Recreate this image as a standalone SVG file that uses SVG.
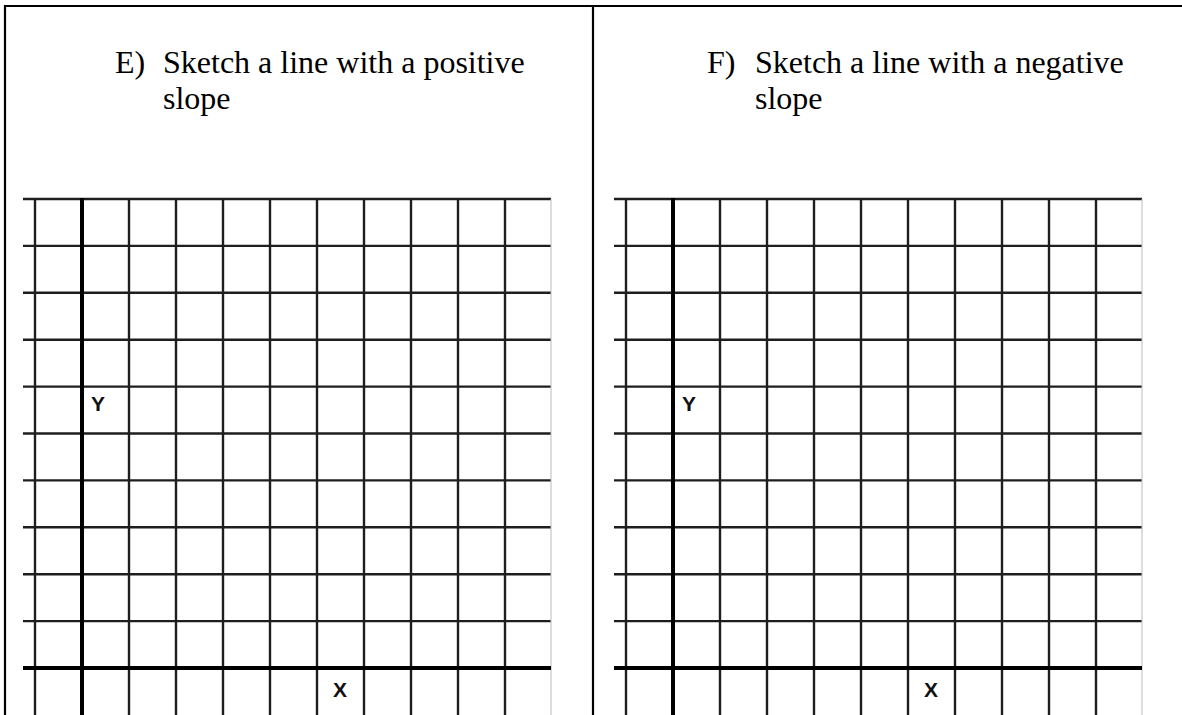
<svg xmlns="http://www.w3.org/2000/svg" xmlns:xlink="http://www.w3.org/1999/xlink" width="1182" height="715" viewBox="0 0 1182 715">
<style>
.frame{stroke:#000;stroke-width:2.2;fill:none}
.g{stroke:#1e1e1e;stroke-width:2.4;fill:none}
.ax{stroke:#000;stroke-width:4;fill:none}
.edge{stroke:#bbb;stroke-width:1;fill:none}
.q{font-family:"Liberation Serif","Times New Roman",serif;font-size:32px;fill:#000}
.lab{font-family:"Liberation Sans",Arial,sans-serif;font-size:21px;font-weight:bold;fill:#111}
</style>
<defs>
<g id="grid">
<g class="g">
<line x1="23" y1="199" x2="551" y2="199"/>
<line x1="23" y1="245.9" x2="551" y2="245.9"/>
<line x1="23" y1="292.8" x2="551" y2="292.8"/>
<line x1="23" y1="339.7" x2="551" y2="339.7"/>
<line x1="23" y1="386.6" x2="551" y2="386.6"/>
<line x1="23" y1="433.5" x2="551" y2="433.5"/>
<line x1="23" y1="480.4" x2="551" y2="480.4"/>
<line x1="23" y1="527.3" x2="551" y2="527.3"/>
<line x1="23" y1="574.2" x2="551" y2="574.2"/>
<line x1="23" y1="621.1" x2="551" y2="621.1"/>
<line x1="35" y1="198" x2="35" y2="715"/>
<line x1="129" y1="198" x2="129" y2="715"/>
<line x1="176" y1="198" x2="176" y2="715"/>
<line x1="223" y1="198" x2="223" y2="715"/>
<line x1="270" y1="198" x2="270" y2="715"/>
<line x1="317" y1="198" x2="317" y2="715"/>
<line x1="364" y1="198" x2="364" y2="715"/>
<line x1="411" y1="198" x2="411" y2="715"/>
<line x1="458" y1="198" x2="458" y2="715"/>
<line x1="505" y1="198" x2="505" y2="715"/>
</g>
<line class="edge" x1="551" y1="199" x2="551" y2="715"/>
<line class="ax" x1="82" y1="198" x2="82" y2="715"/>
<line class="ax" x1="23" y1="668" x2="551" y2="668"/>
<text class="lab" x="91" y="411">Y</text>
<text class="lab" x="333" y="697">X</text>
</g>
</defs>
<rect width="1182" height="715" fill="#fff"/>
<g id="frame" class="frame">
<line x1="4" y1="6" x2="1182" y2="6"/>
<line x1="5" y1="5" x2="5" y2="715"/>
<line x1="593" y1="6" x2="593" y2="715"/>
</g>
<g id="panel-e">
<text class="q" x="115" y="73">E)</text>
<text class="q" x="163" y="73">Sketch a line with a positive</text>
<text class="q" x="163" y="109">slope</text>
<use xlink:href="#grid"/>
</g>
<g id="panel-f">
<text class="q" x="707" y="73">F)</text>
<text class="q" x="755" y="73">Sketch a line with a negative</text>
<text class="q" x="755" y="109">slope</text>
<use xlink:href="#grid" transform="translate(591,0)"/>
</g>
</svg>
